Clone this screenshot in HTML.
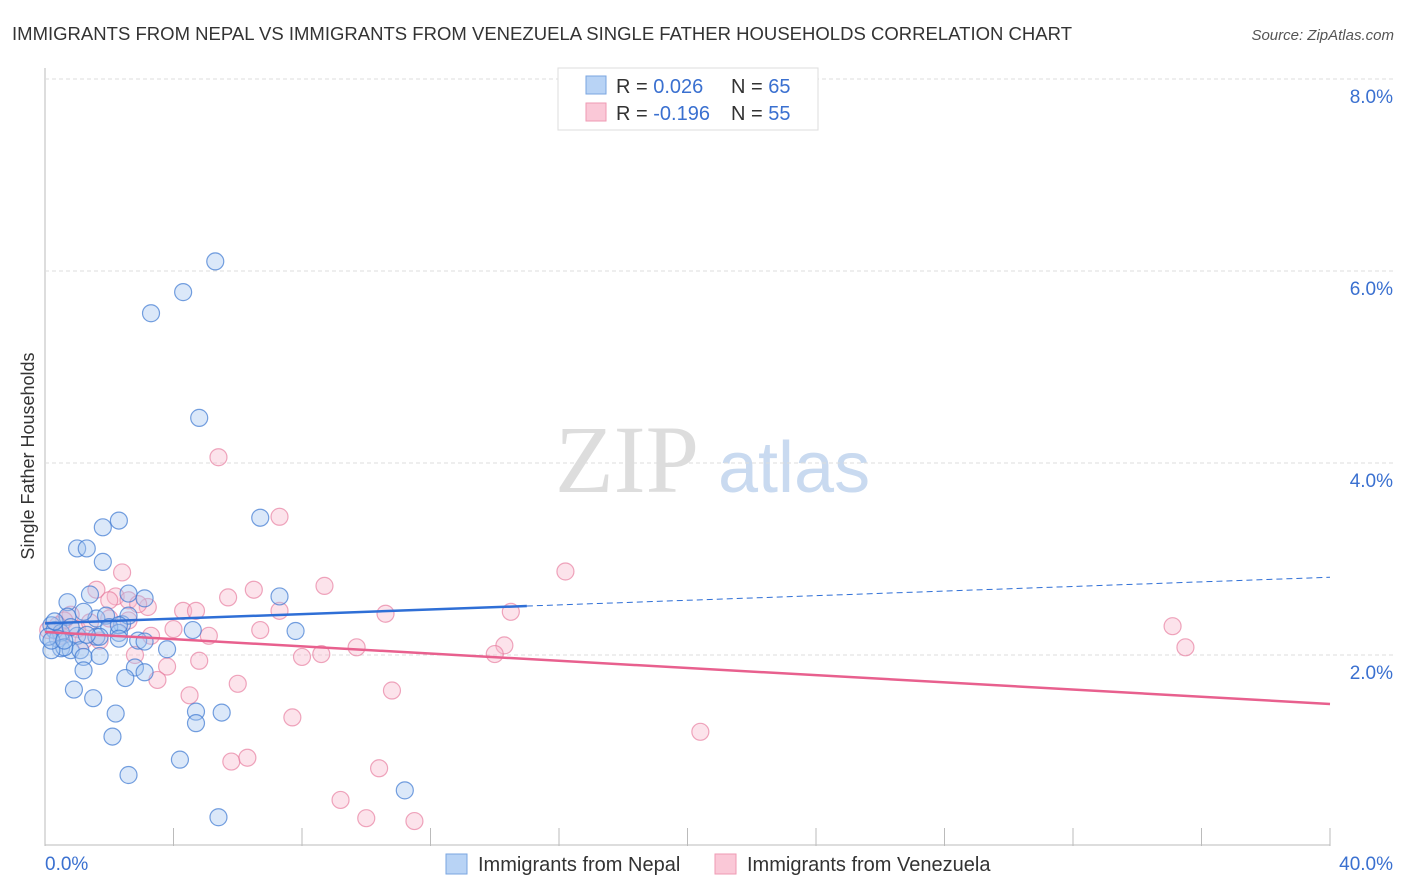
<!DOCTYPE html>
<html><head><meta charset="utf-8"><style>
body{margin:0;background:#fff;font-family:"Liberation Sans",sans-serif;}
svg{display:block}
</style></head><body>
<svg id="chart" width="1406" height="892">
<text x="12" y="40" font-size="18.5" fill="#333" textLength="1060">IMMIGRANTS FROM NEPAL VS IMMIGRANTS FROM VENEZUELA SINGLE FATHER HOUSEHOLDS CORRELATION CHART</text>
<text x="1394" y="40" font-size="15" fill="#555" font-style="italic" text-anchor="end">Source: ZipAtlas.com</text>
<text x="555" y="492" font-size="96" fill="#ddd" font-family="Liberation Serif,serif">ZIP</text>
<text x="718" y="492" font-size="72" fill="#c9daf0">atlas</text>
<text transform="translate(34,456) rotate(-90)" font-size="18" fill="#333" text-anchor="middle">Single Father Households</text>
<g id="grid"></g><g id="pts"></g><g id="lines"></g>
<g>
<rect x="558" y="68" width="260" height="62" fill="#fff" stroke="#ddd"/>
<rect x="586" y="76" width="20" height="18" fill="#b8d3f5" stroke="#7aa6e0"/>
<rect x="586" y="103" width="20" height="18" fill="#fac8d7" stroke="#ef9ab3"/>
<text x="616" y="93" font-size="20" fill="#333">R = <tspan fill="#3a70d0">0.026</tspan><tspan x="731">N = </tspan><tspan fill="#3a70d0">65</tspan></text>
<text x="616" y="120" font-size="20" fill="#333">R = <tspan fill="#3a70d0">-0.196</tspan><tspan x="731">N = </tspan><tspan fill="#3a70d0">55</tspan></text>
</g>
<g>
<rect x="446" y="854" width="21" height="20" fill="#b8d3f5" stroke="#7aa6e0"/>
<text x="478" y="871" font-size="20" fill="#333">Immigrants from Nepal</text>
<rect x="715" y="854" width="21" height="20" fill="#fac8d7" stroke="#ef9ab3"/>
<text x="747" y="871" font-size="20" fill="#333">Immigrants from Venezuela</text>
</g>
</svg>
<script>
const yTicks=[2,4,6,8];
const xTickLabels=["0.0%","40.0%"];
const nepalX=[5.3,4.3,3.3,4.8,2.3,6.7,1.8,1.0,1.3,1.8,0.7,1.4,2.6,3.1,7.3,0.7,1.6,1.9,2.4,2.6,4.6,7.8,1.2,0.2,0.3,0.5,0.4,2.0,2.3,1.6,1.0,2.9,3.8,0.5,0.8,1.1,0.6,1.2,1.7,0.2,2.8,3.1,1.2,2.5,0.9,1.5,2.2,4.7,5.5,4.7,2.1,4.2,2.6,11.2,5.4,0.1,0.3,1.7,2.3,0.8,0.2,0.6,3.1,1.3,2.3];
const nepalY=[6.10,5.78,5.56,4.47,3.40,3.43,3.33,3.11,3.11,2.97,2.55,2.63,2.64,2.59,2.61,2.40,2.38,2.41,2.32,2.41,2.26,2.25,2.45,2.31,2.26,2.23,2.17,2.29,2.23,2.19,2.20,2.15,2.06,2.07,2.05,2.05,2.08,1.98,1.99,2.05,1.87,1.82,1.84,1.76,1.64,1.55,1.39,1.41,1.40,1.29,1.15,0.91,0.75,0.59,0.31,2.19,2.35,2.19,2.31,2.29,2.15,2.15,2.14,2.21,2.17];
const venX=[5.4,7.3,16.2,2.4,8.7,6.5,5.7,2.2,1.6,2.0,2.6,3.2,2.9,4.3,4.7,7.3,10.6,14.5,0.8,0.6,1.0,4.0,3.3,5.1,6.7,35.1,14.3,9.7,8.6,8.0,14.0,35.5,2.8,3.8,4.8,3.5,6.0,4.5,10.8,7.7,20.4,5.8,6.3,10.4,9.2,10.0,11.5,0.4,1.4,1.7,0.5,0.1,1.2,2.6,2.0];
const venY=[4.06,3.44,2.87,2.86,2.72,2.68,2.60,2.61,2.68,2.57,2.57,2.50,2.53,2.46,2.46,2.46,2.43,2.45,2.42,2.36,2.27,2.27,2.20,2.20,2.26,2.30,2.10,2.08,2.01,1.98,2.01,2.08,2.00,1.88,1.94,1.74,1.70,1.58,1.63,1.35,1.20,0.89,0.93,0.82,0.49,0.30,0.27,2.31,2.34,2.15,2.20,2.26,2.15,2.36,2.38];
const nepalTrend=[2.33,2.81]; const venTrend=[2.24,1.49];
const X=v=>45+v/40*1285, Y=v=>847-v*96;
const NS="http://www.w3.org/2000/svg";
function mk(t,a,p){const e=document.createElementNS(NS,t);for(const k in a)e.setAttribute(k,a[k]);p.appendChild(e);return e;}
const g=document.getElementById('grid');
const ax=mk('line',{x1:45,y1:68,x2:45,y2:846,stroke:'#bbb'},g);


const bx=mk('line',{x1:45,y1:845,x2:1330,y2:845,stroke:'#bbb'},g);


for(let i=1;i<=10;i++){const t=mk('line',{x1:45+i*128.5,y1:828,x2:45+i*128.5,y2:846,stroke:'#bbb'},g);

}
yTicks.forEach(v=>{const l=mk('line',{x1:45,x2:1394,y1:Y(v),y2:Y(v),stroke:'#ddd','stroke-dasharray':'4,3'},g);


const t=mk('text',{x:1393,y:Y(v)+24,'font-size':19,fill:'#3a70d0','text-anchor':'end'},g);t.textContent=v.toFixed(1)+'%';

});
xTickLabels.forEach((s,i)=>{const t=mk('text',{x:i?1393:45,y:870,'font-size':19,fill:'#3a70d0','text-anchor':i?'end':'start'},g);t.textContent=s;

});
const p=document.getElementById('pts');
venX.forEach((v,i)=>{const c=mk('circle',{cx:X(v),cy:Y(venY[i]),r:8.5,fill:'rgba(248,185,205,0.4)',stroke:'rgba(230,120,155,0.65)','stroke-width':1.2},p);

});
nepalX.forEach((v,i)=>{const c=mk('circle',{cx:X(v),cy:Y(nepalY[i]),r:8.5,fill:'rgba(165,198,240,0.4)',stroke:'rgba(60,120,210,0.7)','stroke-width':1.2},p);

});
const L=document.getElementById('lines');
const ny=x=>nepalTrend[0]+(nepalTrend[1]-nepalTrend[0])*x/40;
const l1=mk('line',{x1:X(0),y1:Y(ny(0)),x2:X(15),y2:Y(ny(15)),stroke:'#2f6fd6','stroke-width':2.5},L);


const l2=mk('line',{x1:X(15),y1:Y(ny(15)),x2:X(40),y2:Y(ny(40)),stroke:'#2f6fd6','stroke-width':1,'stroke-dasharray':'6,4'},L);


const l3=mk('line',{x1:X(0),y1:Y(venTrend[0]),x2:X(40),y2:Y(venTrend[1]),stroke:'#e8608e','stroke-width':2.5},L);


</script>
</body></html>
